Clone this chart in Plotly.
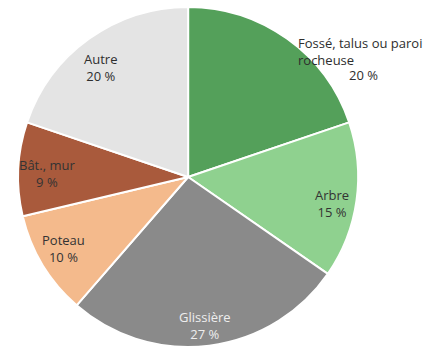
import plotly.graph_objects as go

# Répartition des obstacles heurtés
labels = ["Fossé, talus ou paroi rocheuse", "Arbre", "Glissière", "Poteau", "Bât., mur", "Autre"]
values = [20, 15, 27, 10, 9, 20]
colors = ["#54a05a", "#8fd18f", "#8a8a8a", "#f4ba8c", "#a95a3c", "#e4e4e4"]
text_colors = ["#2e2e2e", "#333333", "#eeeeee", "#333333", "#333333", "#2e2e2e"]

W, H = 430, 347
FONT = "Open Sans, Arial"
FSIZE = 13

fig = go.Figure(go.Pie(
    labels=labels,
    values=values,
    sort=False,
    direction="clockwise",
    rotation=0,
    textinfo="none",
    hoverinfo="label+value",
    marker=dict(colors=colors, line=dict(color="white", width=2)),
    domain=dict(x=[0.042, 0.833], y=[0.0, 0.98]),
    showlegend=False,
))

# label anchor points (pixels from top-left) for each slice
label_px = [(363, 52), (332, 203), (205, 325), (63, 248), (47, 173), (100, 67)]

annotations = []
for i, (lab, val) in enumerate(zip(labels, values)):
    x, y = label_px[i]
    font = dict(size=FSIZE, color=text_colors[i], family=FONT)
    if i == 0:
        head, tail = lab.rsplit(" ", 1)
        annotations.append(dict(
            x=296 / W, y=1 - 52 / H, xref="paper", yref="paper",
            xanchor="left", yanchor="middle", align="left",
            text=f"{head}<br>{tail}", showarrow=False, font=font,
        ))
        annotations.append(dict(
            x=363 / W, y=1 - 75 / H, xref="paper", yref="paper",
            xanchor="center", yanchor="middle",
            text=f"{val} %", showarrow=False, font=font,
        ))
        continue
    annotations.append(dict(
        x=x / W, y=1 - y / H, xref="paper", yref="paper",
        xanchor="center", yanchor="middle", align="center",
        text=f"{lab}<br>{val} %", showarrow=False, font=font,
    ))

fig.update_layout(
    width=W, height=H,
    margin=dict(l=0, r=0, t=0, b=0),
    paper_bgcolor="white",
    plot_bgcolor="white",
    annotations=annotations,
)

fig.write_html("out.html")
